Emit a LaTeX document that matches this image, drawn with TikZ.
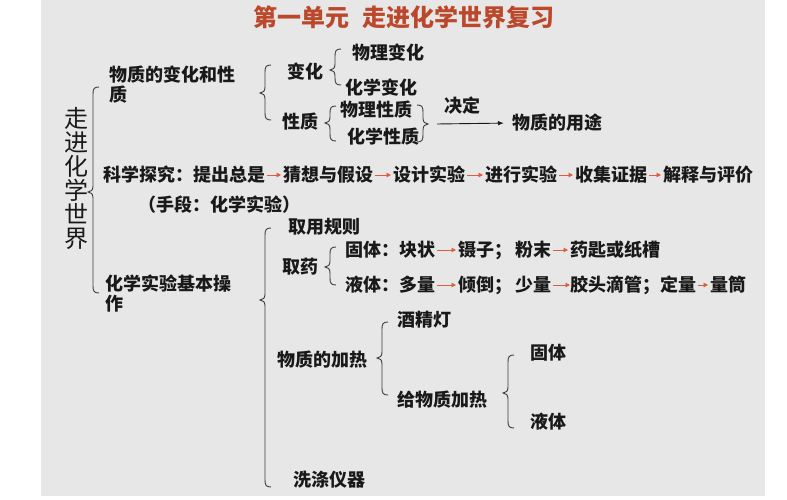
\documentclass[tikz,border=0pt]{standalone}
\usepackage{fontspec}
\newfontfamily\cjk{Noto Sans CJK SC}
\usetikzlibrary{arrows.meta}
\definecolor{bggrey}{RGB}{232,231,232}
\definecolor{titlered}{RGB}{188,72,44}
\definecolor{arrred}{RGB}{222,92,58}
\definecolor{ink}{RGB}{25,25,25}
\newcommand\mkLbrace[4]{%
  \draw[brc] (#1+6,#2) .. controls (#1+1,#2) and (#1,#2+2) .. (#1,#2+7)
    -- (#1,#4-6) .. controls (#1,#4-2) and (#1-2,#4) .. (#1-5,#4)
    .. controls (#1-2,#4) and (#1,#4+2) .. (#1,#4+6)
    -- (#1,#3-7) .. controls (#1,#3-2) and (#1+1,#3) .. (#1+6,#3);}
\newcommand\mkRbrace[4]{%
  \draw[brc] (#1-6,#2) .. controls (#1-1,#2) and (#1,#2+2) .. (#1,#2+7)
    -- (#1,#4-6) .. controls (#1,#4-2) and (#1+2,#4) .. (#1+5,#4)
    .. controls (#1+2,#4) and (#1,#4+2) .. (#1,#4+6)
    -- (#1,#3-7) .. controls (#1,#3-2) and (#1-1,#3) .. (#1-6,#3);}
\tikzset{
  txt/.style={font=\cjk\bfseries\fontsize{18}{20}\selectfont, text=ink, inner sep=0pt,
    text height=14.9pt, text depth=1.3pt, anchor=west},
  txtml/.style={font=\cjk\bfseries\fontsize{18}{20}\selectfont, text=ink, inner sep=0pt,
    align=left, anchor=base west},
  brc/.style={draw=ink!85, line width=0.9pt},
  redarr/.style={draw=arrred, line width=0.9pt, -{Triangle[length=4.5pt,width=4.5pt]},
    shorten <=1.5pt, shorten >=2pt},
  blkarr/.style={draw=ink, line width=0.9pt, -{Latex[length=6pt,width=4.5pt]}}
}
\begin{document}
\begin{tikzpicture}[x=1pt,y=-1pt]
\useasboundingbox (0,0) rectangle (787,500);
\fill[bggrey] (41,0) rectangle (765,496);
% title
\node[font=\cjk\bfseries\fontsize{24}{24}\selectfont, text=titlered, inner sep=0pt] (title) at (404,17)
  {第一单元\hspace{14pt}走进化学世界复习};
% vertical main topic
\node[font=\cjk\fontsize{24}{24}\selectfont, text=ink, inner sep=0pt, align=center] (root) at (76,178)
  {走\\进\\化\\学\\世\\界};
\mkLbrace{93}{87}{293}{192}
% part 1
\node[txtml] (n1) at (109,102) {物质的变化和性\\质};
\mkLbrace{265}{65}{120}{93}
\node[txt] (bh) at (287,72) {变化};
\node[txt] (xz) at (282,122) {性质};
\mkLbrace{335}{49}{85}{70}
\node[txt] (wlbh) at (352,53) {物理变化};
\node[txt] (hxbh) at (345,88) {化学变化};
\mkLbrace{330}{106}{141}{123}
\node[txt] (wlxz) at (340,110) {物理性质};
\node[txt] (hxxz) at (347,137) {化学性质};
\mkRbrace{423}{105}{142}{124}
\coordinate (dec) at (437,124);
\node[txt, anchor=center] (jd) at (462,106) {决定};
\node[txt] (yt) at (512,123) {物质的用途};
\draw[blkarr, shorten >=8pt] (dec) -- (yt.west);
% part 2
\node[txt] (s1) at (103,175) {科学探究：提出总是};
\node[txt] (s2) at (283,175) {猜想与假设};
\node[txt] (s3) at (393,175) {设计实验};
\node[txt] (s4) at (485,175) {进行实验};
\node[txt] (s5) at (575,175) {收集证据};
\node[txt] (s6) at (663,175) {解释与评价};
\draw[redarr] (s1) -- (s2);
\draw[redarr] (s2) -- (s3);
\draw[redarr] (s3) -- (s4);
\draw[redarr] (s4) -- (s5);
\draw[redarr] (s5) -- (s6);
\node[txt] (sd) at (138,205) {（手段：化学实验）};
% part 3
\node[txtml] (n2) at (105,310) {化学实验基本操\\作};
\mkLbrace{265}{228}{487}{300}
\node[txt] (qygz) at (288,227) {取用规则};
\node[txt] (qy) at (282,267) {取药};
\mkLbrace{330}{247}{285}{267}
\node[txt] (g1) at (345,250) {固体：块状};
\node[txt] (g2) at (458,250) {镊子；\hspace{3pt}粉末};
\node[txt] (g3) at (570,250) {药匙或纸槽};
\draw[redarr] (g1) -- (g2);
\draw[redarr] (g2) -- (g3);
\node[txt] (l1) at (345,285) {液体：多量};
\node[txt] (l2) at (458,285) {倾倒；\hspace{3pt}少量};
\node[txt] (l3) at (570,285) {胶头滴管；定量};
\node[txt] (l4) at (710,285) {量筒};
\draw[redarr] (l1) -- (l2);
\draw[redarr, shorten >=0pt] (l2) -- (l3);
\draw[redarr] (l3) -- (l4);
\node[txt] (jr) at (277,360) {物质的加热};
\mkLbrace{382}{322}{395}{358}
\node[txt] (jjd) at (397,320) {酒精灯};
\node[txt] (gjr) at (397,400) {给物质加热};
\mkLbrace{508}{355}{428}{393}
\node[txt] (gt) at (530,353) {固体};
\node[txt] (yt2) at (530,422) {液体};
\node[txt] (xd) at (293,480) {洗涤仪器};
\end{tikzpicture}
\end{document}
